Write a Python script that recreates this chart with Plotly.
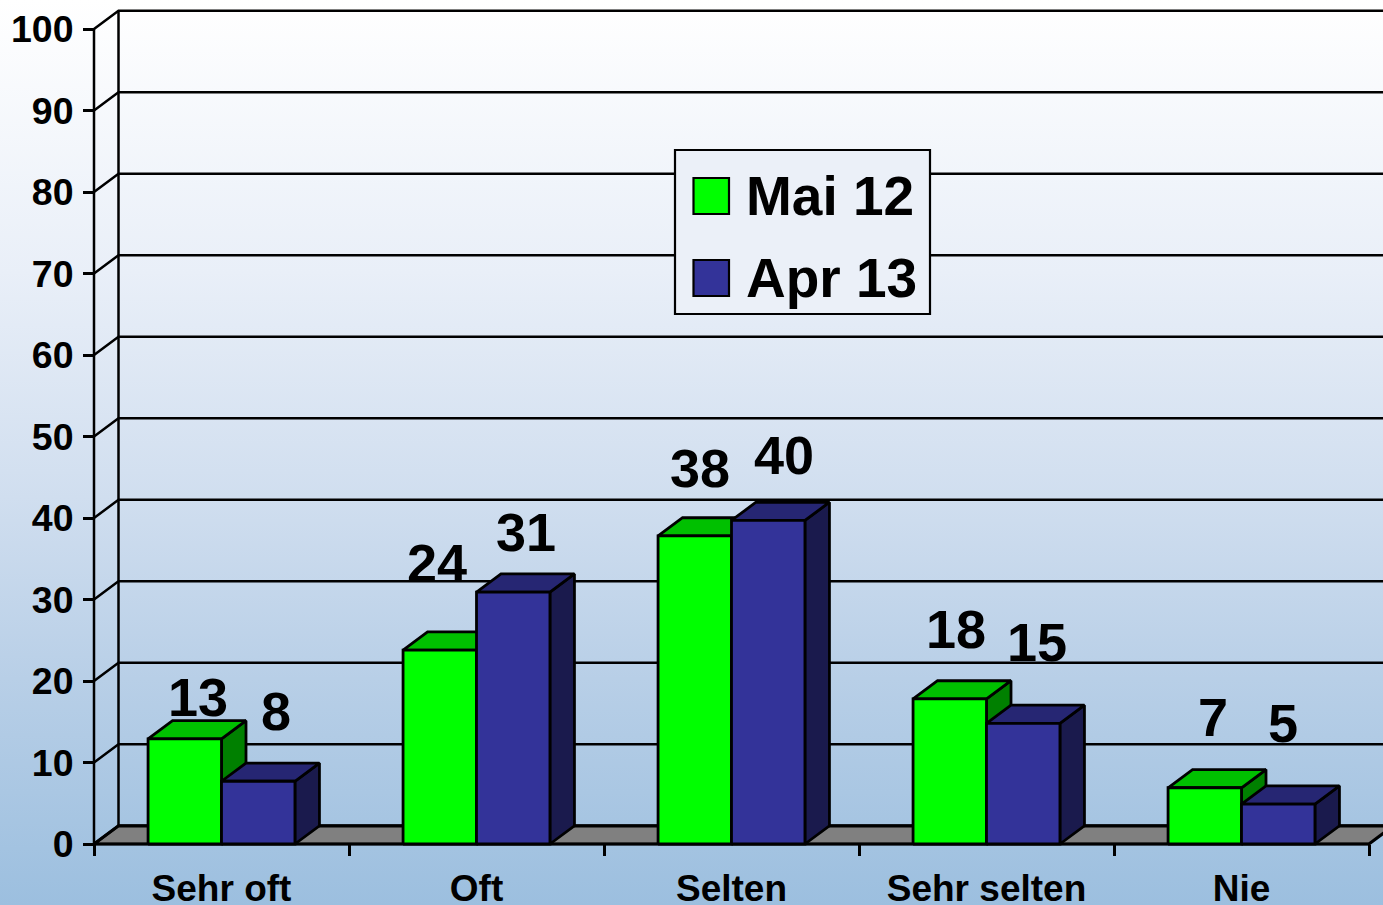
import plotly.graph_objects as go

categories = ["Sehr oft", "Oft", "Selten", "Sehr selten", "Nie"]
mai_12 = [12.9, 23.8, 37.8, 17.8, 6.9]
apr_13 = [7.7, 30.9, 39.7, 14.8, 4.9]
y_ticks = list(range(0, 101, 10))

W, H = 1383, 905
LEFT, RIGHT, TOP, BOTTOM = 94, 1369, 29, 844   # pixel frame of the front axes
n = len(categories)
PX = (RIGHT - LEFT) / n
PY = (BOTTOM - TOP) / 100
DX = 24.5 / PX
DY = 18.2 / PY
BAR = 0.288
FONT = "Liberation Sans, Arial, sans-serif"
INK = "#000000"

SERIES = [
    ("Mai 12", mai_12, "#00FF00", "#00C000", "#008000", -BAR),
    ("Apr 13", apr_13, "#333399", "#262673", "#1A1A4D", 0.0),
]
# label placement: pixel shift from the bar's front top centre
LABEL_DX = [[13, -2.5, 5, 6, 8], [17.5, 12.5, 16, 14, 5]]
LABEL_DY = [[42, 87, 68, 70, 71], [70, 60, 65, 81, 81]]

x0, x1 = -LEFT / PX, (W - LEFT) / PX
y0, y1 = -(H - BOTTOM) / PY, BOTTOM / PY

fig = go.Figure()

def poly(xs, ys, fill, width=2.8, name=None, text=None):
    fig.add_trace(go.Scatter(
        x=xs + xs[:1], y=ys + ys[:1], mode="lines", fill="toself", fillcolor=fill,
        line=dict(color=INK, width=width), showlegend=False,
        hoverinfo="text" if text else "skip", text=text, name=name))

# page background
fig.add_trace(go.Scatter(
    x=[x0, x1, x1, x0, x0], y=[y0, y0, y1, y1, y0], mode="lines", fill="toself",
    line=dict(width=0), showlegend=False, hoverinfo="skip",
    fillgradient=dict(type="vertical", colorscale=[
        [0.0, "#9CBFDF"], [0.25, "#B8CFE7"], [0.45, "#D0DEEF"], [0.7, "#E9EFF8"], [1.0, "#FFFFFF"]])))

# floor
poly([0, DX, n + DX, n], [0, DY, DY, 0], "#808080", 3.2)

# back wall, side wall rules and the axis lines
gx, gy = [], []
for t in y_ticks:
    gx += [0, DX, x1 + 1, None]
    gy += [t, t + DY, t + DY, None]
gx += [DX, DX, None, 0, 0, None, 0, n]
gy += [DY, 100 + DY, None, 0, 100, None, 0, 0]
fig.add_trace(go.Scatter(x=gx, y=gy, mode="lines", line=dict(color=INK, width=2.5),
                         showlegend=False, hoverinfo="skip"))

# bars: each a box of three faces, Mai 12 first so Apr 13 overlaps it
for i, cat in enumerate(categories):
    c = i + 0.5
    for name, vals, front, top, side, off in SERIES:
        v = vals[i]
        a, b = c + off, c + off + BAR
        poly([b, b + DX, b + DX, b], [0, DY, v + DY, v], side)
        poly([a, a + DX, b + DX, b], [v, v + DY, v + DY, v], top)
        poly([a, b, b, a], [0, 0, v, v], front, name=name, text=f"{name}: {cat} {round(v)}")

annotations = []
for s, (name, vals, *_r, off) in enumerate(SERIES):
    for i, v in enumerate(vals):
        annotations.append(dict(
            x=i + 0.5 + off + BAR / 2, y=v, text=str(round(v)), showarrow=False,
            xshift=LABEL_DX[s][i], yshift=LABEL_DY[s][i], xanchor="center", yanchor="middle",
            font=dict(family=FONT, size=54, color=INK, weight="bold")))

# legend
def paper_x(p): return p / W
def paper_y(p): return 1 - p / H

shapes = [dict(type="rect", xref="paper", yref="paper", layer="above",
               x0=paper_x(675), x1=paper_x(930), y0=paper_y(314), y1=paper_y(150),
               fillcolor="#EBF0F8", line=dict(color=INK, width=2.2))]
for (name, _v, color, *_r), cy in zip(SERIES, [196, 278]):
    shapes.append(dict(type="rect", xref="paper", yref="paper", layer="above",
                       x0=paper_x(693.5), x1=paper_x(729), y0=paper_y(cy + 18), y1=paper_y(cy - 18),
                       fillcolor=color, line=dict(color=INK, width=2.2)))
    annotations.append(dict(xref="paper", yref="paper", x=paper_x(744.5), y=paper_y(cy), text=name,
                            showarrow=False, xanchor="left", yanchor="middle",
                            font=dict(family=FONT, size=55, color=INK, weight="bold")))

fig.update_layout(
    width=W, height=H, margin=dict(l=0, r=0, t=0, b=0, pad=0),
    paper_bgcolor="#FFFFFF", plot_bgcolor="rgba(0,0,0,0)",
    showlegend=False, shapes=shapes, annotations=annotations,
    xaxis=dict(range=[x0, x1], anchor="free", position=(H - BOTTOM) / H, automargin=False,
               tickmode="array", tickvals=[i + 0.5 for i in range(n)], ticktext=categories,
               ticks="", showgrid=False, zeroline=False, showline=False,
               ticklabelstandoff=19, fixedrange=True,
               tickfont=dict(family=FONT, size=37, color=INK, weight="bold"),
               minor=dict(tickmode="array", tickvals=list(range(n + 1)), ticks="outside", ticklen=11,
                          tickwidth=2.5, tickcolor=INK, showgrid=False)),
    yaxis=dict(range=[y0, y1], anchor="free", position=LEFT / W, automargin=False,
               tickmode="array", tickvals=y_ticks, ticks="outside", ticklen=11, tickwidth=2.5,
               tickcolor=INK, showgrid=False, zeroline=False, showline=False,
               ticklabelstandoff=2, fixedrange=True,
               tickfont=dict(family=FONT, size=37.5, color=INK, weight="bold")),
)

fig.write_html("out.html", config=dict(displayModeBar=False),
               post_script="document.body.style.margin='0';document.body.style.overflow='hidden';")
